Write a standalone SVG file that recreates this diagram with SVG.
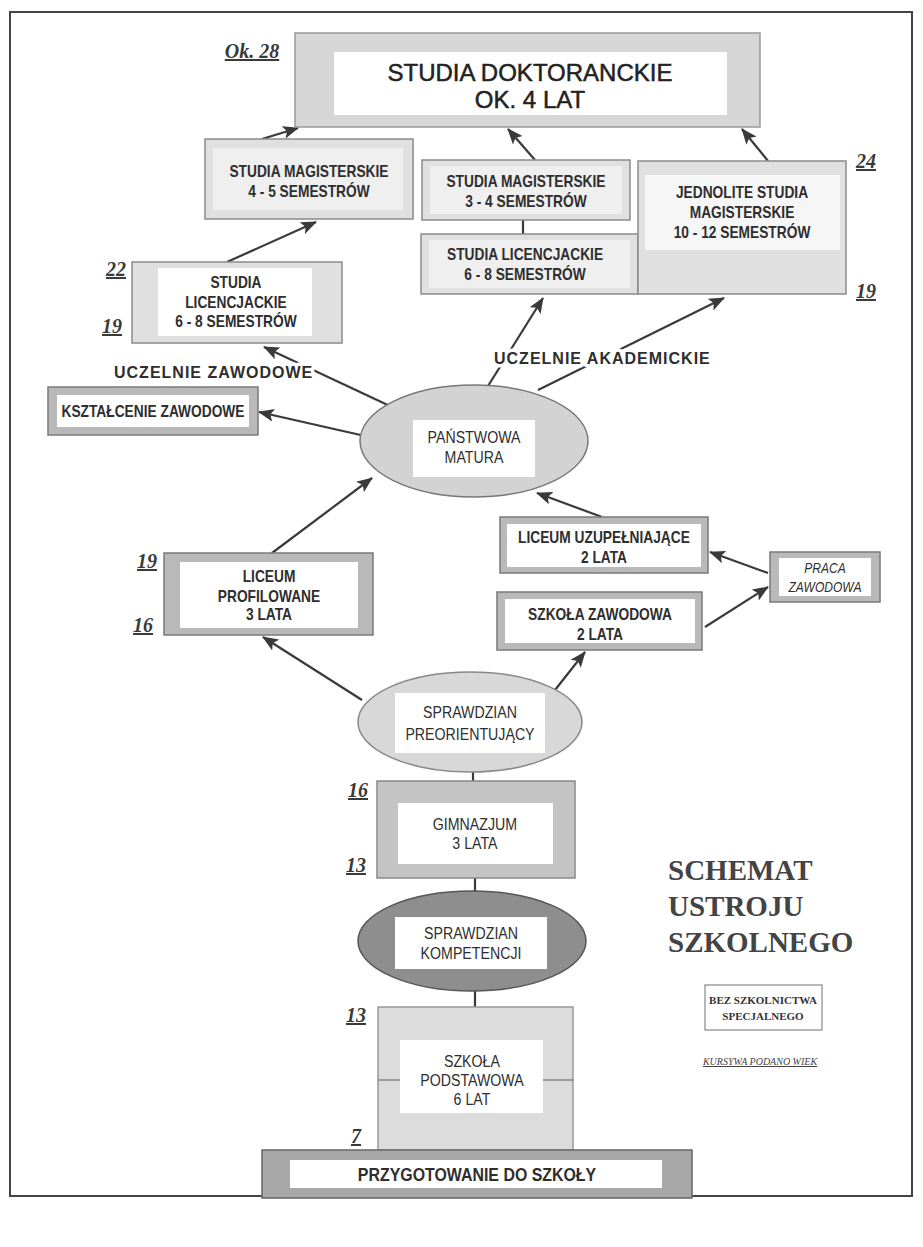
<svg xmlns="http://www.w3.org/2000/svg" width="923" height="1247" viewBox="0 0 923 1247">
<defs>
<marker id="ah" markerUnits="userSpaceOnUse" markerWidth="17" markerHeight="13" refX="15" refY="6.5" orient="auto">
<path d="M0,0 L16,6.5 L0,13 L3.5,6.5 Z" fill="#3a3a3a"/>
</marker>
</defs>
<style>
.b{font-family:"Liberation Sans",Arial,sans-serif;font-weight:bold;font-size:16px;fill:#2e2e2e;text-anchor:middle;transform:scale(0.86,1)}
.r{font-family:"Liberation Sans",Arial,sans-serif;font-size:16.5px;fill:#2e2e2e;text-anchor:middle;transform:scale(0.86,1)}
.doc{font-family:"Liberation Sans",Arial,sans-serif;font-size:24px;fill:#222;stroke:#222;stroke-width:0.5px;text-anchor:middle}
.age{font-family:"Liberation Serif","Times New Roman",serif;font-style:italic;font-weight:bold;font-size:20px;fill:#3a3a3a;text-decoration:underline;text-anchor:middle}
.lab{font-family:"Liberation Sans",Arial,sans-serif;font-weight:bold;font-size:16px;letter-spacing:1px;fill:#2e2e2e;stroke:#fff;stroke-width:7px;paint-order:stroke;stroke-linejoin:round}
.ttl{font-family:"Liberation Serif","Times New Roman",serif;font-weight:bold;font-size:29px;fill:#444}
.lg{font-family:"Liberation Serif","Times New Roman",serif;font-weight:bold;font-size:11px;fill:#333;text-anchor:middle}
.lt{fill:#e0e0e0;stroke:#8a8a8a;stroke-width:1.5}
.dk{fill:#b9b9b9;stroke:#7a7a7a;stroke-width:1.5}
.w{fill:#fff}
.wl{fill:#efefef}
.c line{stroke:#3a3a3a;stroke-width:2.2}
.a{marker-end:url(#ah)}
</style>
<rect x="10" y="12" width="902" height="1184" fill="none" stroke="#444" stroke-width="2"/>

<g class="c" id="connectors">
<line class="a" x1="262" y1="139" x2="298" y2="128"/>
<line class="a" x1="535" y1="160" x2="508" y2="129"/>
<line class="a" x1="768" y1="161" x2="742" y2="129"/>
<line class="a" x1="227" y1="262" x2="316" y2="222"/>
<line x1="523" y1="220" x2="523" y2="234"/>
<line class="a" x1="392" y1="407" x2="264" y2="347"/>
<line class="a" x1="365" y1="436" x2="259" y2="412"/>
<line class="a" x1="488" y1="386" x2="543" y2="298"/>
<line class="a" x1="538" y1="390" x2="724" y2="298"/>
<line class="a" x1="602" y1="517" x2="537" y2="493"/>
<line class="a" x1="272" y1="553" x2="372" y2="478"/>
<line class="a" x1="768" y1="573" x2="710" y2="552"/>
<line class="a" x1="705" y1="627" x2="768" y2="587"/>
<line class="a" x1="362" y1="700" x2="263" y2="637"/>
<line class="a" x1="555" y1="690" x2="585" y2="652"/>
<line x1="473" y1="772" x2="473" y2="781"/>
<line x1="475" y1="878" x2="475" y2="891"/>
<line x1="475" y1="991" x2="475" y2="1007"/>
</g>

<g id="doktoranckie">
<rect x="295" y="33" width="465" height="94" fill="#d6d6d6" stroke="#999" stroke-width="1.5"/>
<rect x="334" y="52" width="393" height="63" class="w"/>
<text x="530" y="81" class="doc">STUDIA DOKTORANCKIE</text>
<text x="530" y="108" class="doc">OK. 4 LAT</text>
<text x="252" y="58" class="age">Ok. 28</text>
</g>

<g id="mag45">
<rect x="205" y="139" width="208" height="80" class="lt"/>
<rect x="213" y="148" width="190" height="62" class="wl"/>
<text x="359.3" y="177" class="b">STUDIA MAGISTERSKIE</text>
<text x="359.3" y="197" class="b">4 - 5 SEMESTRÓW</text>
</g>

<g id="mag34">
<rect x="422" y="160" width="208" height="60" class="lt"/>
<rect x="430" y="166" width="192" height="48" class="wl"/>
<text x="611.6" y="187" class="b">STUDIA MAGISTERSKIE</text>
<text x="611.6" y="207" class="b">3 - 4 SEMESTRÓW</text>
</g>

<g id="lic-akad">
<rect x="421" y="234" width="217" height="60" class="lt"/>
<rect x="429" y="240" width="201" height="48" class="wl"/>
<text x="610.5" y="260" class="b">STUDIA LICENCJACKIE</text>
<text x="610.5" y="280" class="b">6 - 8 SEMESTRÓW</text>
</g>

<g id="jednolite">
<rect x="638" y="161" width="208" height="133" class="lt"/>
<rect x="645" y="175" width="195" height="75" fill="#f6f6f6"/>
<text x="862.8" y="198" class="b">JEDNOLITE STUDIA</text>
<text x="862.8" y="218" class="b">MAGISTERSKIE</text>
<text x="862.8" y="238" class="b">10 - 12 SEMESTRÓW</text>
<text x="866" y="168" class="age">24</text>
<text x="866" y="298" class="age">19</text>
</g>

<g id="lic-zaw">
<rect x="132" y="262" width="210" height="81" class="lt"/>
<rect x="158" y="268" width="154" height="68" class="w"/>
<text x="274.4" y="288" class="b">STUDIA</text>
<text x="274.4" y="308" class="b">LICENCJACKIE</text>
<text x="274.4" y="327" class="b">6 - 8 SEMESTRÓW</text>
<text x="116" y="276" class="age">22</text>
<text x="112" y="333" class="age">19</text>
</g>

<g id="labels">
<text x="114" y="378" class="lab">UCZELNIE ZAWODOWE</text>
<text x="494" y="364" class="lab">UCZELNIE AKADEMICKIE</text>
</g>

<g id="ksztalcenie">
<rect x="48" y="387" width="210" height="48" class="dk"/>
<rect x="57" y="395" width="192" height="32" class="w"/>
<text x="177.9" y="417" class="b">KSZTAŁCENIE ZAWODOWE</text>
</g>

<g id="matura">
<ellipse cx="474" cy="441" rx="114" ry="56" fill="#d3d3d3" stroke="#777" stroke-width="1.5"/>
<rect x="413" y="420" width="122" height="57" class="w"/>
<text x="551.2" y="443" class="r">PAŃSTWOWA</text>
<text x="551.2" y="463" class="r">MATURA</text>
</g>

<g id="lic-uzup">
<rect x="500" y="517" width="208" height="56" class="dk"/>
<rect x="507" y="524" width="194" height="43" class="w"/>
<text x="702.3" y="543" class="b">LICEUM UZUPEŁNIAJĄCE</text>
<text x="702.3" y="563" class="b">2 LATA</text>
</g>

<g id="praca">
<rect x="770" y="552" width="110" height="50" class="dk"/>
<rect x="779" y="558" width="92" height="38" class="w"/>
<text x="959.3" y="573" class="r" style="font-style:italic;font-size:14px">PRACA</text>
<text x="959.3" y="592" class="r" style="font-style:italic;font-size:14px">ZAWODOWA</text>
</g>

<g id="szk-zaw">
<rect x="497" y="592" width="205" height="58" class="dk"/>
<rect x="505" y="599" width="190" height="44" class="w"/>
<text x="697.7" y="620" class="b">SZKOŁA ZAWODOWA</text>
<text x="697.7" y="640" class="b">2 LATA</text>
</g>

<g id="lic-prof">
<rect x="164" y="553" width="209" height="82" class="dk"/>
<rect x="180" y="562" width="178" height="66" class="w"/>
<text x="312.8" y="582" class="b">LICEUM</text>
<text x="312.8" y="602" class="b">PROFILOWANE</text>
<text x="312.8" y="620" class="b">3 LATA</text>
<text x="147" y="568" class="age">19</text>
<text x="143" y="632" class="age">16</text>
</g>

<g id="preorient">
<ellipse cx="470" cy="722" rx="112" ry="50" fill="#d8d8d8" stroke="#888" stroke-width="1.5"/>
<rect x="395" y="693" width="150" height="60" class="w"/>
<text x="546.5" y="718" class="r">SPRAWDZIAN</text>
<text x="546.5" y="740" class="r">PREORIENTUJĄCY</text>
</g>

<g id="gimnazjum">
<rect x="377" y="781" width="198" height="97" fill="#c4c4c4" stroke="#888" stroke-width="1.5"/>
<rect x="398" y="803" width="155" height="61" class="w"/>
<text x="552.3" y="830" class="r">GIMNAZJUM</text>
<text x="552.3" y="849" class="r">3 LATA</text>
<text x="358" y="797" class="age">16</text>
<text x="356" y="872" class="age">13</text>
</g>

<g id="kompetencji">
<ellipse cx="472" cy="941" rx="114" ry="50" fill="#8e8e8e" stroke="#555" stroke-width="1.5"/>
<rect x="395" y="917" width="152" height="52" class="w"/>
<text x="547.7" y="939" class="r">SPRAWDZIAN</text>
<text x="547.7" y="959" class="r">KOMPETENCJI</text>
</g>

<g id="podstawowa">
<rect x="378" y="1007" width="195" height="143" fill="#dcdcdc" stroke="#999" stroke-width="1.5"/>
<line x1="378" y1="1080" x2="573" y2="1080" stroke="#888" stroke-width="1.5"/>
<rect x="400" y="1040" width="143" height="73" class="w"/>
<text x="548.8" y="1067" class="r">SZKOŁA</text>
<text x="548.8" y="1086" class="r">PODSTAWOWA</text>
<text x="548.8" y="1105" class="r">6 LAT</text>
<text x="356" y="1022" class="age">13</text>
<text x="356" y="1143" class="age">7</text>
</g>

<g id="przygotowanie">
<rect x="262" y="1150" width="430" height="48" fill="#a8a8a8" stroke="#666" stroke-width="1.5"/>
<rect x="290" y="1160" width="372" height="28" class="w"/>
<text x="554.7" y="1181" class="b" style="font-size:18.5px">PRZYGOTOWANIE DO SZKOŁY</text>
</g>

<g id="title">
<text x="668" y="880" class="ttl">SCHEMAT</text>
<text x="668" y="916" class="ttl">USTROJU</text>
<text x="668" y="952" class="ttl">SZKOLNEGO</text>
</g>

<g id="legend">
<rect x="705" y="985" width="117" height="45" fill="#fff" stroke="#888" stroke-width="1.2"/>
<text x="763" y="1004" class="lg">BEZ SZKOLNICTWA</text>
<text x="763" y="1020" class="lg">SPECJALNEGO</text>
<text x="760" y="1065" style="font-family:'Liberation Serif','Times New Roman',serif;font-style:italic;font-size:10px;fill:#444;text-anchor:middle;text-decoration:underline">KURSYWA PODANO WIEK</text>
</g>
</svg>
